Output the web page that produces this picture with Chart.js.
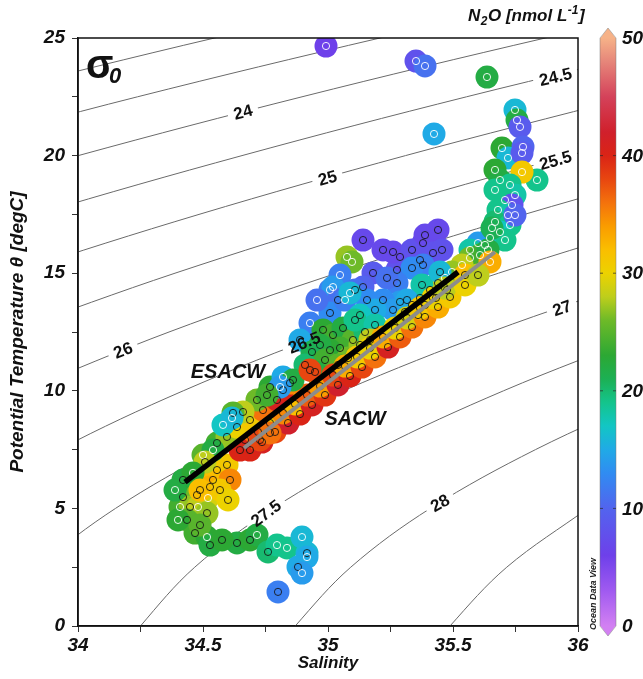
<!DOCTYPE html>
<html>
<head>
<meta charset="utf-8">
<script src="https://cdn.jsdelivr.net/npm/chart.js@4.4.1/dist/chart.umd.min.js"></script>
<style>
  html, body { margin: 0; padding: 0; background: #fff; }
</style>
</head>
<body>
<canvas id="ts" width="643" height="679"></canvas>
<script>
// ---- station data: salinity, potential temperature, N2O, cruise (1 = white ring, 2 = black ring)
const salinity = [
  34.992, 35.352, 35.388, 35.636, 35.424, 35.748, 35.756, 35.768, 35.696, 35.780, 35.720, 35.776, 35.836, 35.776, 35.668,
  35.688, 35.728, 35.668, 35.748, 35.708, 35.736, 35.680, 35.720, 35.668, 35.728, 35.688, 35.648, 35.708, 35.628, 35.600, 35.568, 35.656, 35.748,
  35.568, 35.608, 35.640, 35.536, 35.496, 35.468, 35.440, 35.408, 35.368, 35.336, 35.388, 35.308, 35.648, 35.548, 35.476, 35.432, 35.360, 35.288,
  35.140, 35.220, 35.288, 35.380, 35.368, 35.276, 35.180, 35.140, 35.260, 35.336, 35.388, 35.440, 35.420, 35.456, 35.380, 35.336, 35.276, 35.236,
  35.288, 35.376, 35.220, 35.260, 35.316, 35.076, 35.096, 35.048, 35.008, 35.020, 35.040, 35.008, 35.068, 35.108, 35.156, 35.188, 35.128, 35.448,
  34.928, 34.888, 34.956, 35.088,
  34.980, 35.020, 35.060, 35.100, 35.048, 35.008, 35.080, 35.128, 35.148, 35.108, 35.188, 35.168, 34.968, 34.936, 34.988, 35.040, 34.908, 34.948,
  34.688, 34.668, 34.736, 34.720, 34.788, 34.768, 34.840, 34.820, 34.888, 34.868, 34.936, 34.916, 34.988, 34.968, 35.040, 35.020, 35.088, 35.068,
  35.136, 35.116, 35.188, 35.168, 35.240, 35.220, 35.288, 35.268, 35.336, 35.316, 35.388, 35.368, 35.440, 35.420, 35.488, 35.468, 35.548, 35.600,
  34.556, 34.596, 34.540, 34.528, 34.608, 34.648, 34.728, 34.768, 34.556, 34.596, 34.636, 34.688, 34.740, 34.796, 34.820, 34.848, 34.768, 34.716,
  34.660, 34.620, 34.820, 34.860, 34.928, 34.808, 34.756, 34.500, 34.540, 34.580, 34.616, 34.508,
  34.420, 34.460, 34.420, 34.476, 34.520, 34.408, 34.448, 34.480, 34.516, 34.436, 34.468, 34.516, 34.528, 34.636, 34.688, 34.716, 34.760, 34.796,
  34.836, 34.896, 34.916, 34.916, 34.880, 34.896, 34.800, 34.388, 34.400, 34.488, 34.576, 34.568, 34.600, 34.488
];
const theta = [
  24.66, 24.02, 23.81, 23.34, 20.92, 21.94, 21.51, 21.22, 20.32, 20.37, 19.90, 20.11, 18.96, 19.30, 19.39,
  18.96, 18.75, 18.54, 18.32, 18.11, 17.90, 17.69, 17.47, 17.18, 17.05, 16.75, 16.50, 16.41, 16.20, 16.28, 15.99, 16.92, 17.47,
  15.65, 15.77, 15.99, 15.35, 15.05, 14.80, 14.58, 14.29, 13.95, 13.65, 13.65, 13.35, 15.48, 14.92, 14.29, 13.95, 13.22, 12.93,
  16.41, 15.99, 15.69, 16.28, 15.56, 15.14, 15.01, 14.41, 15.90, 15.99, 16.62, 16.84, 15.86, 15.99, 15.35, 15.22, 14.58, 14.80,
  13.78, 14.50, 13.86, 13.44, 13.86, 15.69, 15.48, 14.92, 14.29, 14.41, 13.86, 13.31, 13.86, 14.29, 13.86, 13.44, 13.22, 15.05,
  12.88, 12.16, 13.86, 14.16,
  12.59, 12.37, 12.67, 12.16, 11.82, 11.73, 11.39, 11.95, 12.50, 13.01, 12.80, 12.16, 11.95, 11.65, 11.31, 11.10, 11.10, 10.80,
  7.48, 7.91, 7.82, 8.25, 8.25, 8.63, 8.63, 9.06, 9.01, 9.44, 9.40, 9.82, 9.82, 10.20, 10.25, 10.67, 10.63, 11.05,
  11.01, 11.44, 11.44, 11.82, 11.86, 12.29, 12.29, 12.67, 12.71, 13.10, 13.14, 13.52, 13.56, 13.95, 13.99, 14.37, 14.50, 14.92,
  6.63, 6.85, 6.21, 5.91, 6.21, 7.48, 7.91, 8.21, 7.78, 8.04, 8.46, 8.76, 9.18, 9.61, 10.03, 10.33, 10.16, 9.61,
  9.10, 9.06, 10.59, 10.46, 10.88, 10.16, 9.82, 7.27, 7.48, 8.55, 8.84, 6.97,
  6.21, 6.51, 5.48, 5.57, 5.44, 5.06, 5.06, 5.06, 4.80, 4.51, 3.95, 3.78, 3.44, 3.53, 3.66, 3.87, 3.15, 3.44,
  3.32, 3.78, 3.10, 2.93, 2.51, 2.25, 1.45, 5.78, 4.51, 4.29, 3.66, 5.78, 5.36, 5.78
];
const n2o = [
  6, 8, 11, 22, 15, 16, 22, 9, 23, 10, 16, 9, 19, 31, 23,
  22, 19, 19, 18, 19, 8, 19, 18, 20, 19, 17, 18, 19, 16, 14, 18, 21, 10,
  26, 24, 22, 28, 27, 25, 24, 30, 33, 34, 36, 31, 33, 32, 34, 38, 37, 38,
  7, 7, 8, 7, 9, 8, 9, 10, 7, 8, 7, 7, 8, 8, 12, 13, 12, 11,
  14, 18, 13, 14, 15, 27, 26, 12, 12, 14, 11, 13, 12, 11, 13, 15, 17, 16,
  12, 15, 11, 16,
  23, 24, 22, 25, 24, 23, 26, 27, 20, 19, 18, 28, 22, 21, 24, 25, 20, 22,
  40, 36, 41, 33, 38, 30, 42, 35, 40, 32, 41, 37, 39, 34, 42, 38, 40, 33,
  38, 31, 36, 30, 41, 33, 37, 30, 36, 29, 35, 31, 33, 30, 31, 28, 30, 28,
  30, 31, 32, 33, 35, 40, 38, 36, 24, 27, 30, 31, 36, 41, 40, 35, 23, 26,
  28, 25, 15, 22, 38, 14, 24, 25, 22, 17, 16, 28,
  22, 23, 23, 26, 29, 24, 27, 28, 27, 25, 24, 23, 22, 22, 23, 22, 20, 19,
  19, 16, 16, 15, 15, 14, 12, 22, 23, 25, 23, 31, 30, 32
];
const cruise = [
  1, 1, 1, 1, 1, 1, 1, 1, 1, 1, 1, 1, 1, 1, 1,
  1, 1, 1, 1, 1, 1, 1, 1, 1, 1, 1, 1, 1, 1, 1, 1, 1, 1,
  1, 1, 1, 1, 1, 1, 2, 2, 2, 2, 2, 2, 1, 2, 2, 2, 2, 2,
  2, 2, 2, 2, 2, 2, 2, 2, 2, 2, 2, 2, 2, 2, 2, 2, 2, 2,
  2, 2, 2, 2, 2, 1, 1, 1, 1, 1, 2, 2, 1, 2, 2, 2, 2, 2,
  1, 2, 1, 1,
  2, 2, 2, 2, 2, 2, 2, 2, 2, 2, 2, 2, 2, 2, 2, 2, 2, 2,
  2, 2, 2, 2, 2, 2, 2, 2, 2, 2, 2, 2, 2, 2, 2, 2, 2, 2,
  2, 2, 2, 2, 2, 2, 2, 2, 2, 2, 2, 2, 2, 2, 2, 2, 2, 2,
  2, 2, 2, 2, 2, 2, 2, 2, 2, 2, 2, 2, 2, 2, 2, 2, 2, 2,
  2, 2, 1, 2, 2, 1, 2, 1, 1, 1, 1, 2,
  2, 1, 2, 2, 1, 1, 2, 1, 2, 2, 2, 1, 2, 2, 2, 1, 2, 1,
  1, 1, 2, 1, 2, 1, 2, 1, 1, 2, 2, 2, 2, 2
];

// ---- water mass lines (endpoints: salinity, temperature)
const esacwSal = [34.428, 35.52];
const esacwTemp = [6.12, 15.05];
const sacwSal = [34.664, 35.668];
const sacwTemp = [7.57, 15.9];

// ---- sigma-0 isopycnals, [salinity, temperature] pairs
const isoLevels = ['23', '23.5', '24', '24.5', '25', '25.5', '26', '26.5', '27', '27.5', '28', '28.5'];
const isoLines = [
  [[33.58, 22.5], [34.546, 25], [35.585, 27.5]],
  [[33.347, 20], [34.238, 22.5], [35.208, 25], [36.25, 27.5]],
  [[33.18, 17.5], [34.001, 20], [34.896, 22.5], [35.869, 25], [36.915, 27.5]],
  [[33.09, 15], [33.833, 17.5], [34.656, 20], [35.554, 22.5], [36.53, 25]],
  [[33.077, 12.5], [33.741, 15], [34.484, 17.5], [35.31, 20], [36.212, 22.5]],
  [[33.721, 12.5], [34.388, 15], [35.135, 17.5], [35.965, 20], [36.87, 22.5]],
  [[33.781, 10], [34.364, 12.5], [35.035, 15], [35.786, 17.5], [36.619, 20]],
  [[33.52, 5], [33.924, 7.5], [34.421, 10], [35.008, 12.5], [35.682, 15], [36.438, 17.5]],
  [[33.63, 0], [33.843, 2.5], [34.15, 5], [34.559, 7.5], [35.061, 10], [35.651, 12.5], [36.329, 15]],
  [[34.185, -1], [34.25, 0], [34.467, 2.5], [34.78, 5], [35.194, 7.5], [35.702, 10], [36.295, 12.5]],
  [[34.80, -1], [34.869, 0], [35.091, 2.5], [35.409, 5], [35.83, 7.5], [36.342, 10]],
  [[35.42, -1], [35.488, 0], [35.715, 2.5], [36.039, 5]]
];
const labelLevels = ['24', '24.5', '25', '25.5', '26', '26.5', '27', '27.5', '28'];
const labelSal = [34.66, 35.91, 34.998, 35.91, 34.18, 34.905, 35.936, 34.752, 35.448];
const labelTemp = [21.85, 23.35, 19.05, 19.8, 11.73, 12.05, 13.52, 4.8, 5.23];

const colorbarTicks = [0, 10, 20, 30, 40, 50];

// ODV-like rainbow for N2O 0..50
const cmap = [
  [0, 210, 128, 242], [3, 160, 90, 240], [6, 110, 64, 234], [10, 82, 100, 238], [13, 48, 140, 242],
  [15, 32, 170, 230], [17, 18, 198, 196], [19, 20, 196, 140], [21, 28, 176, 84], [23, 44, 168, 52],
  [26, 110, 186, 40], [28, 190, 206, 28], [30, 236, 210, 0], [32, 250, 190, 0], [34, 250, 156, 0],
  [36, 244, 114, 12], [38, 232, 70, 16], [40, 218, 36, 22], [42, 208, 32, 44], [45, 212, 66, 90],
  [48, 230, 134, 122], [50, 246, 178, 136]
];
function n2oColor(v) {
  if (v <= cmap[0][0]) return `rgb(${cmap[0][1]},${cmap[0][2]},${cmap[0][3]})`;
  for (let i = 1; i < cmap.length; i++) {
    if (v <= cmap[i][0]) {
      const a = cmap[i - 1], b = cmap[i];
      const f = (v - a[0]) / (b[0] - a[0]);
      const c = [1, 2, 3].map(k => Math.round(a[k] + f * (b[k] - a[k])));
      return `rgb(${c[0]},${c[1]},${c[2]})`;
    }
  }
  const l = cmap[cmap.length - 1];
  return `rgb(${l[1]},${l[2]},${l[3]})`;
}

const FAMILY = '"Liberation Sans", Arial, sans-serif';
const font = (size, style = 'italic', weight = 'bold') => `${style} ${weight} ${size}px ${FAMILY}`;

const stations = salinity.map((s, i) => ({ x: s, y: theta[i] }));

const datasets = isoLines.map((line, i) => ({
  label: 'sigma ' + isoLevels[i],
  data: line.map(p => ({ x: p[0], y: p[1] })),
  showLine: true,
  borderColor: '#6a6a6a',
  borderWidth: 1,
  pointRadius: 0,
  tension: 0.35,
  order: 20
}));
datasets.push({
  label: 'dots',
  kind: 'dots',
  data: stations,
  pointRadius: 11.5,
  borderWidth: 0,
  pointBackgroundColor: ctx => n2oColor(n2o[ctx.dataIndex]),
  order: 10
});
datasets.push({
  label: 'rings',
  data: stations,
  pointRadius: 3.6,
  borderWidth: 1,
  backgroundColor: 'rgba(0,0,0,0)',
  pointBorderColor: ctx => cruise[ctx.dataIndex] === 1 ? 'rgba(255,255,255,0.9)' : 'rgba(20,20,20,0.85)',
  order: 9
});
datasets.push({
  label: 'SACW',
  data: sacwSal.map((s, i) => ({ x: s, y: sacwTemp[i] })),
  showLine: true,
  borderColor: '#8c8c8c',
  borderWidth: 4,
  pointRadius: 0,
  order: 3
});
datasets.push({
  label: 'ESACW',
  data: esacwSal.map((s, i) => ({ x: s, y: esacwTemp[i] })),
  showLine: true,
  borderColor: '#000',
  borderWidth: 5.5,
  pointRadius: 0,
  order: 2
});

function labelGeometry(chart, i) {
  const xs = chart.scales.x, ys = chart.scales.y;
  const line = isoLines[isoLevels.indexOf(labelLevels[i])];
  const t = labelTemp[i];
  let a = line[0], b = line[1];
  for (let k = 1; k < line.length; k++) {
    if (t <= line[k][1]) { a = line[k - 1]; b = line[k]; break; }
  }
  const dx = xs.getPixelForValue(b[0]) - xs.getPixelForValue(a[0]);
  const dy = ys.getPixelForValue(b[1]) - ys.getPixelForValue(a[1]);
  return {
    px: xs.getPixelForValue(labelSal[i]),
    py: ys.getPixelForValue(labelTemp[i]),
    ang: Math.atan2(dy, dx)
  };
}

const decor = {
  id: 'decor',
  beforeDatasetDraw(chart, args) {
    if (chart.data.datasets[args.index].kind !== 'dots') return;
    const ctx = chart.ctx;
    const ca = chart.chartArea;
    ctx.save();
    ctx.beginPath();
    ctx.rect(ca.left, ca.top, ca.right - ca.left, ca.bottom - ca.top);
    ctx.clip();
    ctx.font = font(17, 'normal', 'bold');
    labelLevels.forEach((txt, i) => {
      const g = labelGeometry(chart, i);
      const w = ctx.measureText(txt).width + 12;
      ctx.save();
      ctx.translate(g.px, g.py);
      ctx.rotate(g.ang);
      ctx.fillStyle = '#fff';
      ctx.fillRect(-w / 2, -7, w, 14);
      ctx.restore();
    });
    ctx.restore();
  },
  afterDatasetsDraw(chart) {
    const ctx = chart.ctx;
    const ca = chart.chartArea;
    const xs = chart.scales.x, ys = chart.scales.y;
    ctx.save();
    ctx.fillStyle = '#111';
    ctx.textAlign = 'center';
    ctx.textBaseline = 'middle';
    ctx.font = font(17, 'normal', 'bold');
    labelLevels.forEach((txt, i) => {
      const g = labelGeometry(chart, i);
      ctx.save();
      ctx.translate(g.px, g.py);
      ctx.rotate(g.ang);
      ctx.fillText(txt, 0, 1);
      ctx.restore();
    });
    // water mass names
    ctx.font = font(20);
    ctx.fillText('ESACW', xs.getPixelForValue(34.60), ys.getPixelForValue(10.76));
    ctx.fillText('SACW', xs.getPixelForValue(35.108), ys.getPixelForValue(8.76));
    // sigma-0 tag
    ctx.textAlign = 'left';
    ctx.textBaseline = 'alphabetic';
    ctx.font = `normal bold 40px ${FAMILY}`;
    ctx.fillText('\u03c3', ca.left + 8, ca.top + 40);
    ctx.font = font(22);
    ctx.fillText('0', ca.left + 31, ca.top + 45);
    // frame
    ctx.strokeStyle = '#111';
    ctx.lineWidth = 1.5;
    ctx.strokeRect(ca.left, ca.top, ca.right - ca.left, ca.bottom - ca.top);
    ctx.restore();
  },
  afterDraw(chart) {
    const ctx = chart.ctx;
    const ca = chart.chartArea;
    ctx.save();
    // axis titles
    ctx.fillStyle = '#111';
    ctx.textAlign = 'center';
    ctx.textBaseline = 'middle';
    ctx.font = font(17);
    ctx.fillText('Salinity', (ca.left + ca.right) / 2, 663);
    ctx.save();
    ctx.translate(18, (ca.top + ca.bottom) / 2);
    ctx.rotate(-Math.PI / 2);
    ctx.font = font(19);
    ctx.fillText('Potential Temperature \u03b8 [degC]', 0, 0);
    ctx.restore();

    // colour bar
    const cbX = 600, cbW = 16;
    const yTop = ca.top, yBot = ca.bottom;
    const grad = ctx.createLinearGradient(0, yBot, 0, yTop);
    cmap.forEach(s => grad.addColorStop(s[0] / 50, `rgb(${s[1]},${s[2]},${s[3]})`));
    ctx.fillStyle = grad;
    ctx.fillRect(cbX, yTop, cbW, yBot - yTop);
    ctx.fillStyle = n2oColor(50);
    ctx.beginPath();
    ctx.moveTo(cbX, yTop + 0.5); ctx.lineTo(cbX + cbW, yTop + 0.5); ctx.lineTo(cbX + cbW / 2, yTop - 10);
    ctx.closePath(); ctx.fill();
    ctx.fillStyle = n2oColor(0);
    ctx.beginPath();
    ctx.moveTo(cbX, yBot - 0.5); ctx.lineTo(cbX + cbW, yBot - 0.5); ctx.lineTo(cbX + cbW / 2, yBot + 10);
    ctx.closePath(); ctx.fill();
    ctx.strokeStyle = 'rgba(120,120,120,0.6)';
    ctx.lineWidth = 0.8;
    ctx.beginPath();
    ctx.moveTo(cbX, yBot); ctx.lineTo(cbX + cbW / 2, yBot + 10); ctx.lineTo(cbX + cbW, yBot);
    ctx.lineTo(cbX + cbW, yTop); ctx.lineTo(cbX + cbW / 2, yTop - 10); ctx.lineTo(cbX, yTop);
    ctx.closePath(); ctx.stroke();

    ctx.font = font(19);
    ctx.textAlign = 'left';
    ctx.textBaseline = 'middle';
    colorbarTicks.forEach(v => {
      const y = yBot - (v / 50) * (yBot - yTop);
      if (v > 0 && v < 50) {
        ctx.strokeStyle = 'rgba(40,40,40,0.7)';
        ctx.lineWidth = 1;
        ctx.beginPath();
        ctx.moveTo(cbX, y); ctx.lineTo(cbX + 3, y);
        ctx.moveTo(cbX + cbW - 3, y); ctx.lineTo(cbX + cbW, y);
        ctx.stroke();
      }
      ctx.fillStyle = '#111';
      ctx.fillText(String(v), cbX + cbW + 6, y + 1);
    });

    // colour bar title: N2O [nmol L-1]
    ctx.textBaseline = 'alphabetic';
    let x = 468;
    const base = 21;
    const parts = [
      ['N', 17, 0], ['2', 12, 4], ['O [nmol L', 17, 0], ['-1', 12, -7], [']', 17, 0]
    ];
    parts.forEach(([t, sz, dy]) => {
      ctx.font = font(sz);
      ctx.fillText(t, x, base + dy);
      x += ctx.measureText(t).width + 0.5;
    });

    // tag
    ctx.save();
    ctx.translate(594, 594);
    ctx.rotate(-Math.PI / 2);
    ctx.textAlign = 'center';
    ctx.textBaseline = 'middle';
    ctx.font = font(9);
    ctx.fillStyle = '#222';
    ctx.fillText('Ocean Data View', 0, 0);
    ctx.restore();
    ctx.restore();
  }
};

const tickFont = { family: FAMILY, size: 19, style: 'italic', weight: 'bold' };

new Chart(document.getElementById('ts'), {
  type: 'scatter',
  data: { datasets },
  options: {
    responsive: false,
    animation: false,
    devicePixelRatio: 1,
    events: [],
    layout: { padding: { left: 0, top: 38, right: 65, bottom: 0 } },
    plugins: { legend: { display: false }, tooltip: { enabled: false } },
    scales: {
      x: {
        type: 'linear',
        min: 34,
        max: 36,
        afterFit: s => { s.height = 53; },
        ticks: {
          stepSize: 0.25,
          padding: 2,
          color: '#111',
          font: tickFont,
          autoSkip: false,
          maxRotation: 0,
          callback: v => (Math.abs(v * 2 - Math.round(v * 2)) < 1e-6 ? String(v) : '')
        },
        grid: { drawOnChartArea: false, drawTicks: true, tickLength: 6, color: '#333' },
        border: { display: true, color: '#111', width: 1.5 }
      },
      y: {
        type: 'linear',
        min: 0,
        max: 25,
        afterFit: s => { s.width = 78; },
        ticks: {
          stepSize: 2.5,
          padding: 7,
          color: '#111',
          font: tickFont,
          autoSkip: false,
          callback: v => (v % 5 === 0 ? String(v) : '')
        },
        grid: { drawOnChartArea: false, drawTicks: true, tickLength: 6, color: '#333' },
        border: { display: true, color: '#111', width: 1.5 }
      }
    }
  },
  plugins: [decor]
});
</script>
</body>
</html>
